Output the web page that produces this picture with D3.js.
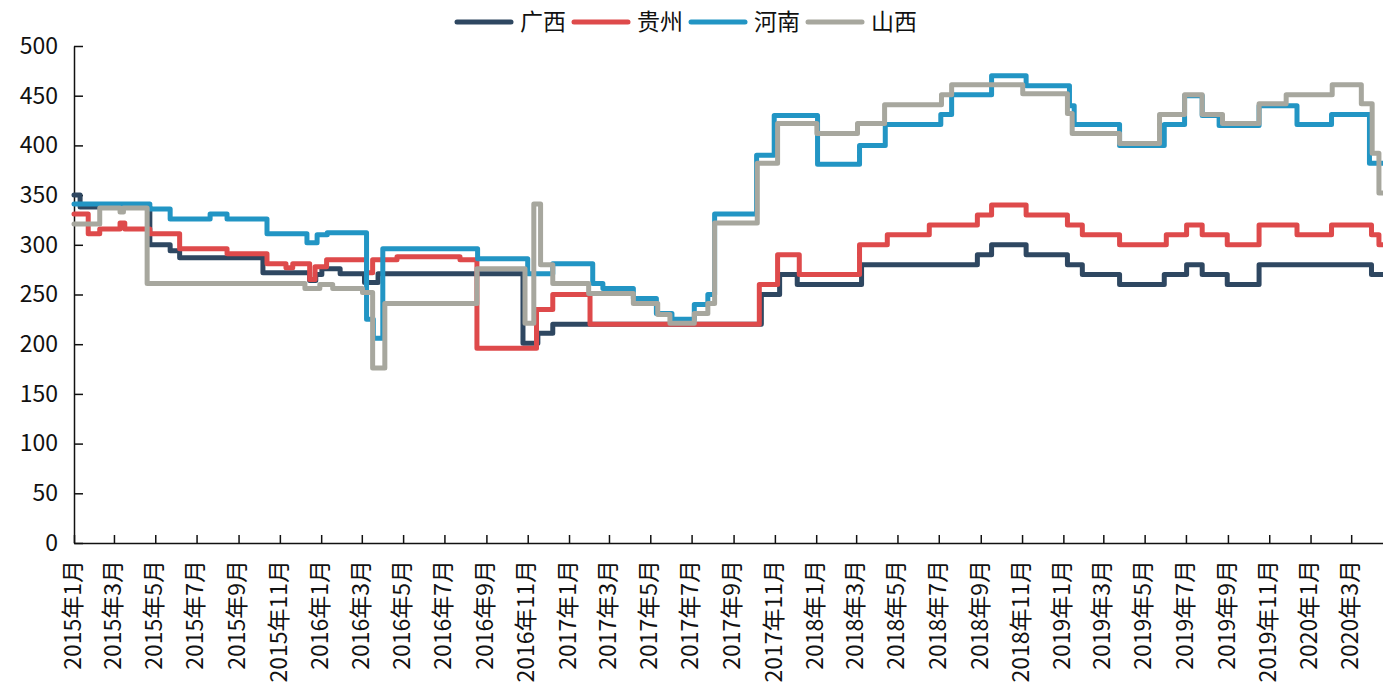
<!DOCTYPE html>
<html>
<head>
<meta charset="utf-8">
<script src="https://cdn.jsdelivr.net/npm/d3@7"></script>
<style>
  body { margin: 0; background: #fff; }
  text { font-family: "Noto Sans CJK SC", "Noto Sans", sans-serif; fill: #111; }
</style>
</head>
<body>
<div id="chart"></div>
<script>
// canvas size
const width = 1383;
const height = 691;

// series names, colours and tick values
const seriesNames = ["广西", "贵州", "河南", "山西"];
const seriesColors = ["#2e4761", "#de4a4b", "#2295c4", "#a7a79e"];
const yTicks = [0, 50, 100, 150, 200, 250, 300, 350, 400, 450, 500];

// step series: [date the price changes, new price]
const guangxi = [["2015-01-01",350],["2015-01-10",338],["2015-04-23",300],["2015-05-23",294],["2015-06-06",287],["2015-10-07",272],["2015-12-15",264],["2015-12-24",270],["2016-01-02",276],["2016-01-29",271],["2016-03-05",262],["2016-03-25",271],["2016-10-25",201],["2016-11-16",211],["2016-12-08",220],["2017-10-12",250],["2017-11-08",270],["2017-12-04",260],["2018-03-09",280],["2018-08-27",290],["2018-09-17",300],["2018-11-07",290],["2019-01-07",280],["2019-01-29",270],["2019-03-25",260],["2019-05-30",270],["2019-07-02",280],["2019-07-25",270],["2019-08-31",260],["2019-10-17",280],["2020-03-31",270],["2020-04-17",270]];

const guizhou = [["2015-01-01",331],["2015-01-22",311],["2015-02-08",316],["2015-03-10",322],["2015-03-17",316],["2015-04-23",311],["2015-06-06",296],["2015-08-15",291],["2015-10-13",281],["2015-11-10",277],["2015-11-20",281],["2015-12-15",265],["2015-12-23",278],["2016-01-09",285],["2016-03-08",272],["2016-03-17",285],["2016-04-22",288],["2016-07-24",285],["2016-08-18",196],["2016-11-14",235],["2016-12-08",250],["2017-02-01",220],["2017-10-09",260],["2017-11-05",290],["2017-12-07",270],["2018-03-06",300],["2018-04-16",310],["2018-06-17",320],["2018-08-27",330],["2018-09-17",340],["2018-11-07",330],["2019-01-07",320],["2019-01-29",310],["2019-03-25",300],["2019-06-02",310],["2019-07-02",320],["2019-07-25",310],["2019-08-31",300],["2019-10-17",320],["2019-12-12",310],["2020-02-01",320],["2020-03-31",310],["2020-04-11",300],["2020-04-17",300]];

const henan = [["2015-01-01",341],["2015-04-23",336],["2015-05-23",326],["2015-07-21",331],["2015-08-15",326],["2015-10-13",311],["2015-12-11",302],["2015-12-26",310],["2016-01-10",312],["2016-03-08",225],["2016-03-18",206],["2016-04-01",296],["2016-08-19",286],["2016-11-01",271],["2016-12-08",281],["2017-02-05",261],["2017-02-20",256],["2017-04-06",246],["2017-05-10",231],["2017-06-02",225],["2017-07-05",240],["2017-07-25",250],["2017-08-04",331],["2017-10-05",390],["2017-10-31",430],["2018-01-03",381],["2018-03-06",400],["2018-04-13",421],["2018-07-04",431],["2018-07-20",451],["2018-09-17",470],["2018-11-07",460],["2019-01-10",440],["2019-01-17",421],["2019-03-25",400],["2019-05-30",421],["2019-06-29",450],["2019-07-25",430],["2019-08-19",420],["2019-10-17",440],["2019-12-12",421],["2020-02-01",431],["2020-03-28",382],["2020-04-17",382]];

const shanxi = [["2015-01-01",321],["2015-02-08",337],["2015-03-10",333],["2015-03-15",337],["2015-04-19",261],["2015-12-08",256],["2015-12-30",260],["2016-01-18",256],["2016-03-02",252],["2016-03-17",176],["2016-04-04",241],["2016-08-18",276],["2016-10-28",221],["2016-11-10",341],["2016-11-20",280],["2016-12-08",261],["2017-01-30",251],["2017-04-06",241],["2017-05-12",230],["2017-05-30",221],["2017-07-05",231],["2017-07-25",241],["2017-08-04",322],["2017-10-06",382],["2017-11-05",422],["2018-01-02",412],["2018-03-03",422],["2018-04-12",441],["2018-07-05",451],["2018-07-20",461],["2018-11-02",452],["2019-01-07",432],["2019-01-14",412],["2019-03-25",402],["2019-05-23",431],["2019-06-29",451],["2019-07-25",431],["2019-08-24",422],["2019-10-17",442],["2019-11-26",451],["2020-02-02",461],["2020-03-16",442],["2020-04-01",392],["2020-04-11",352],["2020-04-17",352]];

const seriesData = [guangxi, guizhou, henan, shanxi];

const parseDate = d3.timeParse("%Y-%m-%d");

const svg = d3.select("#chart")
  .append("svg")
  .attr("width", width)
  .attr("height", height);

const x = d3.scaleTime()
  .domain([parseDate("2015-01-01"), parseDate("2020-04-17")])
  .range([74, 1383]);

const y = d3.scaleLinear()
  .domain([0, 500])
  .range([543, 46]);

// y axis, ticks pointing into the plot
const yAxis = svg.append("g")
  .attr("transform", "translate(74,0)")
  .call(d3.axisLeft(y).tickValues(yTicks).tickSize(-9).tickSizeOuter(0).tickPadding(16));

yAxis.selectAll("text")
  .style("font-size", "23px")
  .style("fill", "#111");

// x axis, one tick every two months
const xAxis = svg.append("g")
  .attr("transform", "translate(0,543)")
  .call(d3.axisBottom(x)
    .ticks(d3.timeMonth.every(2))
    .tickSize(-8)
    .tickSizeOuter(0)
    .tickFormat(d3.timeFormat("%Y年%-m月")));

xAxis.selectAll("text")
  .attr("transform", "rotate(-90)")
  .attr("x", -17)
  .attr("y", -2)
  .attr("dy", "0.36em")
  .style("text-anchor", "end")
  .style("font-size", "23px")
  .style("fill", "#111");

svg.selectAll(".domain, .tick line")
  .attr("stroke", "#111")
  .attr("stroke-width", 1.5);

// step lines
const line = d3.line()
  .curve(d3.curveStepAfter)
  .x(d => x(parseDate(d[0])))
  .y(d => y(d[1]));

svg.append("g")
  .selectAll("path")
  .data(seriesData)
  .enter()
  .append("path")
  .attr("d", line)
  .attr("fill", "none")
  .attr("stroke", (d, i) => seriesColors[i])
  .attr("stroke-width", 5)
  .attr("stroke-linejoin", "round")
  .attr("stroke-linecap", "round");

// legend across the top
const legend = svg.append("g")
  .selectAll("g")
  .data(seriesNames)
  .enter()
  .append("g")
  .attr("transform", (d, i) => "translate(" + (457 + i * 117) + ",22)");

legend.append("line")
  .attr("x1", 0)
  .attr("x2", 54)
  .attr("stroke", (d, i) => seriesColors[i])
  .attr("stroke-width", 5)
  .attr("stroke-linecap", "round");

legend.append("text")
  .attr("x", 63)
  .attr("dy", "0.36em")
  .style("font-size", "23px")
  .text(d => d);
</script>
</body>
</html>
